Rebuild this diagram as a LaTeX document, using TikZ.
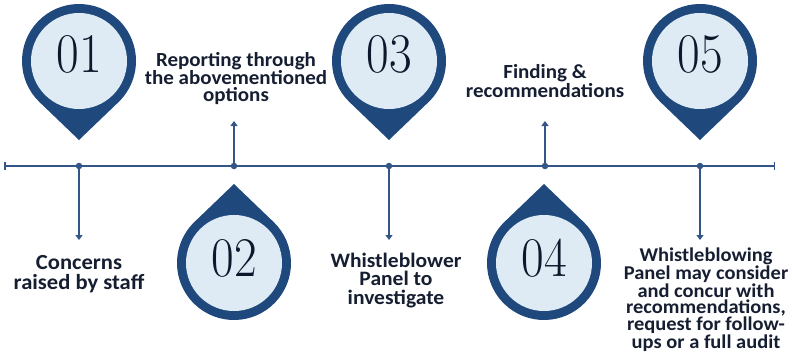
\documentclass[tikz,border=0pt]{standalone}
\usepackage{fontspec}
\usetikzlibrary{arrows.meta}
\newfontfamily\lblfont{Carlito}[FakeStretch=1.05]
\newfontfamily\numfont{Latin Modern Roman}[FakeStretch=0.88]
\definecolor{pindark}{RGB}{31,73,125}
\definecolor{pinlight}{RGB}{222,235,245}
\definecolor{linecol}{RGB}{52,86,135}
\definecolor{textcol}{RGB}{22,30,50}
\definecolor{numcol}{RGB}{14,24,45}

\begin{document}
\begin{tikzpicture}[x=1pt,y=-1pt,
  % teardrop marker: ring plus point, tip 79 below the centre
  marker/.pic={
    \fill[pindark] (0,79) -- (133.8:57) arc[start angle=133.8,end angle=406.2,radius=57] -- cycle;
    \fill[pinlight] (0,0) circle[radius=48];
  },
  num/.style={font=\numfont\fontsize{56}{56}\selectfont, text=numcol, inner sep=0},
  % labels are placed by the baseline of their last line
  lbl/.style 2 args={font=\lblfont\bfseries\fontsize{#1}{#2}\selectfont, text=textcol, align=center, inner sep=0, anchor=base},
  dotnode/.style={circle, fill=linecol, inner sep=0, minimum size=6.5pt},
  stem/.style={draw=linecol, line width=2pt, -{Triangle[length=5pt,width=7pt]}},
  axis/.style={draw=linecol, line width=2pt, {Bar[width=8pt,line width=1.5pt]}-{Bar[width=8pt,line width=1.5pt]}}
]
\useasboundingbox[fill=white] (0,0) rectangle (792,356);

% markers
\pic at (79,61) {marker};
\pic[rotate=180] at (234,263) {marker};
\pic at (389,61) {marker};
\pic[rotate=180] at (544,263) {marker};
\pic at (700,61) {marker};

\node[num] (n1) at (79,54) {01};
\node[num] (n2) at (234,258) {02};
\node[num] (n3) at (389,54) {03};
\node[num] (n4) at (544,258) {04};
\node[num] (n5) at (700,54) {05};

% timeline
\coordinate (tl) at (4,166);
\coordinate (tr) at (775,166);
\draw[axis] (tl) -- (tr);

\node[dotnode] (d1) at (79,166) {};
\node[dotnode] (d2) at (234,166) {};
\node[dotnode] (d3) at (389,166) {};
\node[dotnode] (d4) at (545,166) {};
\node[dotnode] (d5) at (700,166) {};

\coordinate (e1) at (79,240);
\coordinate (e2) at (234,121);
\coordinate (e3) at (389,240);
\coordinate (e4) at (545,121);
\coordinate (e5) at (700,240);

\draw[stem] (d1) -- (e1);
\draw[stem] (d2) -- (e2);
\draw[stem] (d3) -- (e3);
\draw[stem] (d4) -- (e4);
\draw[stem] (d5) -- (e5);

% step texts
\node[lbl={21.5}{20}] (l1) at (79,289) {Concerns\\raised by staff};
\node[lbl={20}{16.5}] (l2) at (236,101) {Reporting through\\the abovementioned\\options};
\node[lbl={20.5}{18.5}] (l3) at (396,304) {Whistleblower\\Panel to\\investigate};
\node[lbl={20}{19}] (l4) at (545,97) {Finding \&\\recommendations};
\node[lbl={19.5}{16.6}] (l5) at (706,348) {Whistleblowing\\Panel may consider\\and concur with\\recommendations,\\request for follow-\\ups or a full audit};
\end{tikzpicture}
\end{document}
